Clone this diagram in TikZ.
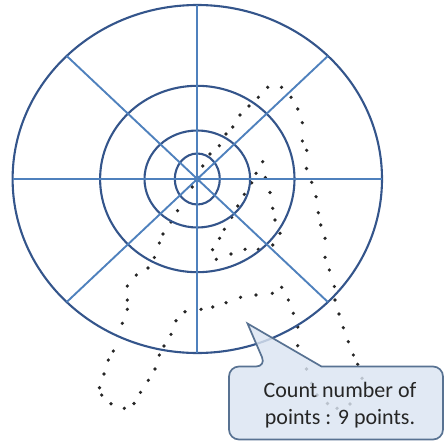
\documentclass[tikz,border=0pt]{standalone}
\usepackage{fontspec}
\setmainfont{Carlito}
\usetikzlibrary{calc}
\definecolor{ringblue}{HTML}{34558B}
\definecolor{spokeblue}{HTML}{4F81BD}
\definecolor{noteblue}{HTML}{DAE4F1}
\definecolor{noteedge}{HTML}{587292}

\begin{document}
\begin{tikzpicture}[
  x=1pt, y=-1pt,
  ring/.style={draw=ringblue, line width=2.1pt},
  spoke/.style={draw=spokeblue, line width=1.9pt},
  trace/.style={fill=black!85},
  callout/.style={draw=noteedge, line width=1.7pt, fill=noteblue, fill opacity=0.82},
  note/.style={align=center, font=\fontsize{22}{26.5}\selectfont, text=black!85}
]
\useasboundingbox (0,0) rectangle (444,441);

% traced points
\foreach \p in {(202.7,166),(210,154),(219.3,145.7),(226,134),(232.7,127),(240,115),
    (249,106),(258.3,97.3),(267.7,87.3),(281.5,87.3),(291,97.3),(297.7,109),(302.3,122.7),
    (302.3,141),(306.7,150.3),(306.5,168.5),(311.7,182.3),(316,196.7),(318.3,212.7),
    (320.7,225),(325,238.3),(325,257.3),(329.3,270),(334.3,286.5),(335,300),(339,314),
    (343.3,327.7),(348.3,341.7),(353.3,355),(357.7,364.3),(362,378.3),(360,394),(350,404),
    (337,408.3),(327.5,403.5),(317,395),(311.7,383.3),(306.5,369),(297.7,345.7),(297.7,327),
    (293.3,313.3),(288.3,300),(281.7,287.3),(272.3,293.3),(256,295),(240.5,297.3),
    (226,302.7),(212.7,307),(201,309.3),(185,311.7),(176,320.7),(171,334.3),(164,346),
    (159.3,355),(155,369),(148.3,380.3),(140.5,392.3),(134,403.5),(124.3,408.3),(111,403.7),
    (101.7,395),(99.5,387.7),(104,374),(108.3,360),(113.3,351),(122.3,323.3),(127.3,309.3),
    (127.3,300),(127.3,286),(136.3,275),(148,268),(154.3,257.5),(159.3,243),(163,234),
    (171,222),(177.5,210.7),(192.2,187)}
  \fill[trace] \p circle (1.8pt);
\foreach \p in {(262.7,161.7),(256,173.3),(251.7,182.8),(244.3,194.3),(237.7,206),
    (231.7,217.3),(224.3,229.3),(219.5,238.3),(212.5,249.7),(216.3,259.3),(231,254),
    (245,249.3),(258.3,249.3),(272.7,245),(280,233.3),(275,220),(272.7,208.3),(270,192.5),
    (265.3,177.5)}
  \fill[trace] \p circle (1.8pt);

% target rings and spokes
\coordinate (c) at (197.3,179);
\foreach \rx/\ry in {184.7/174, 97.2/93.2, 52.8/48.5, 22.5/25.5}
  \draw[ring] (c) ellipse [x radius=\rx pt, y radius=\ry pt];
\foreach \a in {0,45,90,135}
  \draw[spoke] ($(c)+(\a:184.7pt and 174pt)$) -- ($(c)+(\a+180:184.7pt and 174pt)$);
\fill[spokeblue] (c) circle (3.5pt);

% callout
\draw[callout] (321.5,366.5) [rounded corners=10pt] -- (443,366.5) -- (443,439.5)
  -- (229,439.5) -- (229,366.5) -- (266,366.5) [sharp corners] -- (247.5,323.5) -- cycle;
\node[note] (count) at (340,405) {Count number of\\points : 9 points.};

\end{tikzpicture}
\end{document}
